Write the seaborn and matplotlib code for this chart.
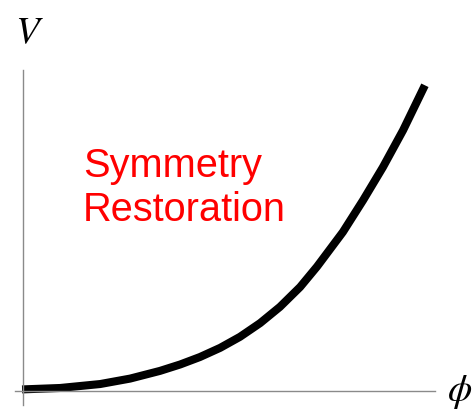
import numpy as np
import pandas as pd
import matplotlib
matplotlib.use('Agg')
import matplotlib.pyplot as plt
import seaborn as sns

# potential curve (phi, V), both scaled 0..1
phi = [-0.0025, 0.092, 0.191, 0.265, 0.339, 0.389, 0.438, 0.488, 0.537,
       0.587, 0.636, 0.686, 0.728, 0.792, 0.842, 0.891, 0.941, 0.995]
pot = [0.005, 0.0097, 0.0226, 0.0404, 0.0656, 0.0866, 0.111, 0.141, 0.177,
       0.222, 0.275, 0.340, 0.407, 0.520, 0.624, 0.732, 0.853, 1.0]
label_lines = ['Symmetry', 'Restoration']

sns.set_style('white')
plt.rcParams['mathtext.fontset'] = 'stix'

df = pd.DataFrame({'phi': phi, 'V': pot})

fig = plt.figure(figsize=(4.77, 4.20), dpi=100)
ax = fig.add_axes([15/477, 15/420, 420/477, 335/420])

sns.lineplot(x='phi', y='V', data=df, sort=False, color='black',
             linewidth=5.8, solid_capstyle='butt', ax=ax)

ax.set_xlim(-0.02, 1.02)
ax.set_ylim(-0.046, 1.05)
for s in ['top', 'right']:
    ax.spines[s].set_visible(False)
for s in ['left', 'bottom']:
    ax.spines[s].set_position(('data', 0))
    ax.spines[s].set_color('#8a8a8a')
    ax.spines[s].set_linewidth(1.0)
ax.set_xticks([])
ax.set_yticks([])
ax.set_xlabel('')
ax.set_ylabel('')

fig.text(15/477, 1 - 43/420, '$V$', fontsize=28, color='black',
         ha='left', va='baseline')
fig.text(460/477, 1 - 392/420, r'$\phi$', fontsize=28, color='black',
         ha='center', va='center')

fig.text(83/477, 1 - 177/420, label_lines[0], fontsize=28.6, color='#ff0000',
         family='Liberation Sans', ha='left', va='baseline')
fig.text(83/477, 1 - 221/420, label_lines[1], fontsize=28.6, color='#ff0000',
         family='Liberation Sans', ha='left', va='baseline')

fig.savefig('out.png', dpi=100)
